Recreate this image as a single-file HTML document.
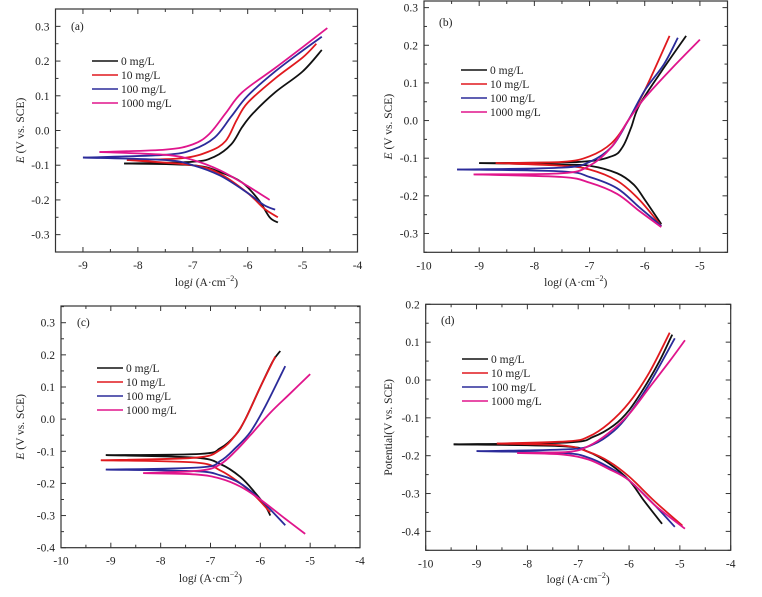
<!DOCTYPE html>
<html><head><meta charset="utf-8"><style>
body{margin:0;background:#fff;}
svg{display:block;}
text{font-family:"Liberation Serif","Times New Roman",Times,serif;}
</style></head><body>
<svg id="s" width="762" height="597" viewBox="0 0 762 597" xmlns="http://www.w3.org/2000/svg"></svg>
<script>
const S=document.getElementById('s');
const NS='http://www.w3.org/2000/svg';
const FF='Liberation Serif, Times New Roman, serif';
function el(t,a,txt){const e=document.createElementNS(NS,t);for(const k in a)e.setAttribute(k,a[k]);if(t==='text')e.setAttribute('font-family',FF);if(txt!==undefined)e.textContent=txt;S.appendChild(e);return e;}
const COL=['#111','#e0191e','#2b2b9a','#e0158c'];
const LAB=['0 mg/L','10 mg/L','100 mg/L','1000 mg/L'];
const FS=11.5;
function panel(p){
 const X=v=>p.x0+(v-p.xmin)/(p.xmax-p.xmin)*(p.x1-p.x0);
 const Y=v=>p.y1-(v-p.ymin)/(p.ymax-p.ymin)*(p.y1-p.y0);
 for(let v=p.xmin;v<=p.xmax+1e-9;v+=0.5){
  const maj=Math.abs(v-Math.round(v))<1e-6, L=maj?5:3, x=X(v);
  el('line',{x1:x,y1:p.y1,x2:x,y2:p.y1-L,stroke:'#333'});
  el('line',{x1:x,y1:p.y0,x2:x,y2:p.y0+L,stroke:'#333'});
  if(maj&&p.xl.includes(Math.round(v)))el('text',{x:x,y:p.y1+17,'font-size':FS,'text-anchor':'middle',fill:'#222'},String(Math.round(v)));
 }
 for(let k=Math.round(p.ymin*20);k<=Math.round(p.ymax*20);k++){
  const v=k/20,maj=k%2==0,L=maj?5:3,y=Y(v);
  el('line',{x1:p.x0,y1:y,x2:p.x0+L,y2:y,stroke:'#333'});
  el('line',{x1:p.x1,y1:y,x2:p.x1-L,y2:y,stroke:'#333'});
  if(maj)el('text',{x:p.x0-6,y:y+4,'font-size':FS,'text-anchor':'end',fill:'#222'},v.toFixed(1));
 }
 el('rect',{x:p.x0,y:p.y0,width:p.x1-p.x0,height:p.y1-p.y0,fill:'none',stroke:'#333','stroke-width':1.2});
 el('text',{x:p.lx,y:p.ly,'font-size':FS,fill:'#222'},p.lab);
 p.c.forEach((c,i)=>{
  [c[0],c[1]].forEach(pts=>{
   const P=pts.map(q=>[X(q[0]),Y(q[1])]);
   let d='M'+P[0][0]+','+P[0][1];
   for(let j=0;j<P.length-1;j++){
    const p0=P[Math.max(j-1,0)],p1=P[j],p2=P[j+1],p3=P[Math.min(j+2,P.length-1)];
    d+=' C'+(p1[0]+(p2[0]-p0[0])/6)+','+(p1[1]+(p2[1]-p0[1])/6)+' '+(p2[0]-(p3[0]-p1[0])/6)+','+(p2[1]-(p3[1]-p1[1])/6)+' '+p2[0]+','+p2[1];
   }
   el('path',{d:d,fill:'none',stroke:COL[i],'stroke-width':1.8});
  });
 });
 for(let i=0;i<4;i++){
  const y=p.gy+i*14;
  el('line',{x1:p.gx,y1:y,x2:p.gx+26,y2:y,stroke:COL[i],'stroke-width':1.6});
  el('text',{x:p.gx+29,y:y+4,'font-size':FS,fill:'#222'},LAB[i]);
 }
 const xt=el('text',{x:(p.x0+p.x1)/2,y:p.xty,'font-size':FS,'text-anchor':'middle',fill:'#222'});
 xt.innerHTML='log<tspan font-style="italic">i</tspan> (A·cm<tspan dy="-5" font-size="8">−2</tspan><tspan dy="5">)</tspan>';
 const yt=el('text',{x:0,y:0,'font-size':FS,'text-anchor':'middle',fill:'#222',transform:`translate(${p.ytx},${(p.y0+p.y1)/2}) rotate(-90)`});
 yt.innerHTML=p.yt;
}
const ET='<tspan font-style="italic">E</tspan> (V vs. SCE)';
panel({x0:55.5,x1:357.5,y0:9,y1:252,xmin:-9.5,xmax:-4,ymin:-0.35,ymax:0.35,xl:[-9,-8,-7,-6,-5,-4],lab:'(a)',lx:71,ly:30,gx:92,gy:61,xty:286,ytx:24,yt:ET,
c:[
[[[-8.25,-0.095],[-7,-0.09],[-6.6,-0.075],[-6.3,-0.04],[-6.1,0.01],[-5.9,0.05],[-5.5,0.11],[-5,0.17],[-4.65,0.232]],[[-8.25,-0.095],[-7,-0.1],[-6.5,-0.12],[-6.1,-0.15],[-5.8,-0.2],[-5.6,-0.25],[-5.45,-0.265]]],
[[[-8.2,-0.085],[-7.2,-0.08],[-6.7,-0.06],[-6.4,-0.03],[-6.2,0.03],[-6,0.08],[-5.5,0.15],[-5,0.21],[-4.75,0.25]],[[-8.2,-0.085],[-7,-0.1],[-6.5,-0.125],[-6,-0.18],[-5.7,-0.225],[-5.45,-0.25]]],
[[[-9,-0.078],[-7.5,-0.07],[-7,-0.055],[-6.6,-0.02],[-6.3,0.04],[-6,0.1],[-5.5,0.17],[-5,0.23],[-4.65,0.27]],[[-9,-0.078],[-7.5,-0.085],[-7,-0.1],[-6.5,-0.13],[-6,-0.18],[-5.7,-0.215],[-5.5,-0.228]]],
[[[-8.7,-0.062],[-7.5,-0.055],[-7,-0.04],[-6.7,-0.01],[-6.4,0.05],[-6.1,0.11],[-5.5,0.18],[-5,0.24],[-4.55,0.295]],[[-8.7,-0.062],[-7.5,-0.07],[-7,-0.085],[-6.5,-0.115],[-6,-0.16],[-5.6,-0.2]]]
]});
panel({x0:424,x1:727.5,y0:1,y1:252.3,xmin:-10,xmax:-4.5,ymin:-0.35,ymax:0.3176,xl:[-10,-9,-8,-7,-6,-5],lab:'(b)',lx:439,ly:26,gx:461,gy:70,xty:286,ytx:392,yt:ET,
c:[
[[[-9,-0.113],[-7.2,-0.11],[-6.6,-0.095],[-6.4,-0.07],[-6.25,-0.02],[-6.1,0.04],[-5.7,0.13],[-5.25,0.225]],[[-9,-0.113],[-7.5,-0.117],[-7,-0.12],[-6.5,-0.14],[-6.2,-0.17],[-6,-0.21],[-5.7,-0.275]]],
[[[-8.7,-0.113],[-7.5,-0.11],[-7,-0.095],[-6.6,-0.06],[-6.3,0],[-6,0.08],[-5.55,0.225]],[[-8.7,-0.113],[-7.5,-0.12],[-7,-0.13],[-6.5,-0.16],[-6.1,-0.21],[-5.7,-0.28]]],
[[[-9.4,-0.13],[-7.5,-0.125],[-7,-0.11],[-6.6,-0.07],[-6.3,0],[-6,0.08],[-5.65,0.15],[-5.4,0.22]],[[-9.4,-0.13],[-7.5,-0.135],[-7,-0.15],[-6.5,-0.18],[-6.1,-0.23],[-5.7,-0.28]]],
[[[-9.1,-0.143],[-7.5,-0.14],[-7,-0.12],[-6.6,-0.07],[-6.3,0],[-6,0.06],[-5.5,0.14],[-5,0.215]],[[-9.1,-0.143],[-7.5,-0.15],[-7,-0.165],[-6.5,-0.195],[-6.1,-0.24],[-5.7,-0.283]]]
]});
panel({x0:61,x1:360,y0:306,y1:547.7,xmin:-10,xmax:-4,ymin:-0.4,ymax:0.352,xl:[-10,-9,-8,-7,-6,-5,-4],lab:'(c)',lx:77,ly:326,gx:97,gy:368,xty:582,ytx:24,yt:ET,
c:[
[[[-9.1,-0.112],[-7.2,-0.108],[-6.8,-0.09],[-6.5,-0.05],[-6.3,0],[-6,0.1],[-5.75,0.18],[-5.6,0.212]],[[-9.1,-0.112],[-7.3,-0.12],[-6.8,-0.14],[-6.4,-0.18],[-6.1,-0.23],[-5.9,-0.27],[-5.8,-0.3]]],
[[[-9.2,-0.128],[-7.3,-0.12],[-6.8,-0.095],[-6.5,-0.05],[-6.3,0],[-6,0.1],[-5.7,0.195]],[[-9.2,-0.128],[-7.3,-0.135],[-6.8,-0.16],[-6.4,-0.2],[-6.1,-0.24],[-5.8,-0.29]]],
[[[-9.1,-0.157],[-7.2,-0.15],[-6.8,-0.13],[-6.5,-0.09],[-6.2,-0.04],[-5.9,0.04],[-5.5,0.165]],[[-9.1,-0.157],[-7.3,-0.162],[-6.8,-0.175],[-6.4,-0.2],[-6,-0.25],[-5.5,-0.33]]],
[[[-8.35,-0.168],[-7.2,-0.16],[-6.8,-0.14],[-6.5,-0.1],[-6.2,-0.05],[-5.8,0.02],[-5.4,0.08],[-5,0.14]],[[-8.35,-0.168],[-7.3,-0.172],[-6.8,-0.185],[-6.4,-0.21],[-6,-0.25],[-5.5,-0.31],[-5.1,-0.357]]]
]});
panel({x0:425.7,x1:730.7,y0:304.3,y1:550.3,xmin:-10,xmax:-4,ymin:-0.45,ymax:0.2,xl:[-10,-9,-8,-7,-6,-5,-4],lab:'(d)',lx:441,ly:324,gx:462,gy:359,xty:583,ytx:392,yt:'Potential(V vs. SCE)',
c:[
[[[-9.45,-0.17],[-7.2,-0.165],[-6.7,-0.15],[-6.3,-0.12],[-6,-0.08],[-5.7,-0.02],[-5.4,0.05],[-5.15,0.12]],[[-9.45,-0.17],[-7.3,-0.175],[-6.8,-0.19],[-6.4,-0.22],[-6,-0.265],[-5.7,-0.32],[-5.35,-0.38]]],
[[[-8.6,-0.168],[-7.2,-0.162],[-6.8,-0.15],[-6.4,-0.115],[-6,-0.06],[-5.6,0.02],[-5.2,0.125]],[[-8.6,-0.168],[-7.3,-0.173],[-6.8,-0.19],[-6.4,-0.215],[-6,-0.255],[-5.5,-0.32],[-4.95,-0.385]]],
[[[-9,-0.188],[-7.2,-0.183],[-6.7,-0.17],[-6.3,-0.135],[-6,-0.09],[-5.6,-0.01],[-5.1,0.11]],[[-9,-0.188],[-7.3,-0.193],[-6.8,-0.205],[-6.4,-0.23],[-6,-0.265],[-5.5,-0.33],[-5.1,-0.388]]],
[[[-8.2,-0.193],[-7.2,-0.19],[-6.8,-0.175],[-6.4,-0.14],[-6,-0.09],[-5.6,-0.02],[-5.2,0.05],[-4.9,0.105]],[[-8.2,-0.193],[-7.3,-0.197],[-6.8,-0.21],[-6.4,-0.235],[-6,-0.265],[-5.5,-0.33],[-4.9,-0.393]]]
]});
</script>
</body></html>
